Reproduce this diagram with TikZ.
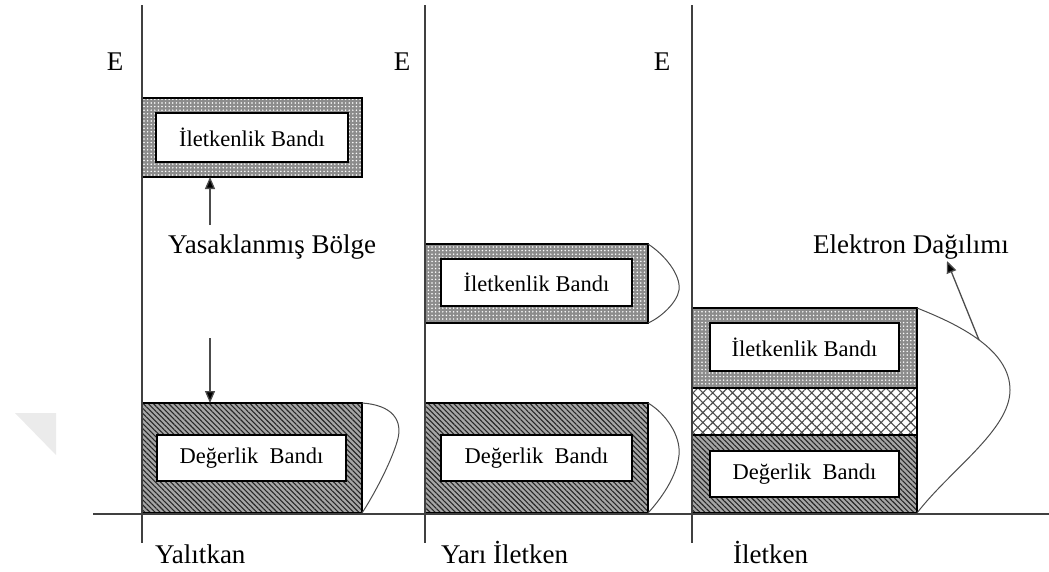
\documentclass[tikz,border=0pt]{standalone}
\usepackage{fontspec}
\setmainfont{Liberation Serif}
\usetikzlibrary{patterns.meta,arrows.meta}
\begin{document}
\begin{tikzpicture}[x=1pt,y=-1pt,
  axisline/.style={draw=black!75,line width=1.4pt},
  cband/.style={draw=black,line width=1.3pt,inner sep=0pt,outer sep=0pt,
    preaction={fill=black!45},pattern={Dots[radius=0.85pt,distance=3.6pt]},pattern color=white},
  vband/.style={draw=black,line width=1.3pt,inner sep=0pt,outer sep=0pt,
    preaction={fill=black!35},pattern={Lines[angle=-45,distance=3.6pt,line width=1.1pt]},pattern color=black!85},
  gapband/.style={draw=black,line width=1.3pt,inner sep=0pt,outer sep=0pt,
    preaction={fill=white},pattern={Hatch[angle=45,distance=7pt,line width=1.1pt]},pattern color=black!70},
  inbox/.style={draw=black,line width=1.3pt,fill=white,inner sep=0pt,outer sep=0pt,
    font=\fontsize{22.5}{25}\selectfont},
  biglabel/.style={inner sep=0pt,font=\fontsize{27}{30}\selectfont},
  distcurve/.style={draw=black!70,line width=1pt},
  arr/.style={draw=black!70,line width=1.3pt,-{Triangle[length=12pt,width=10pt,fill=black]}}
]
\useasboundingbox (0,0) rectangle (1049,571);
\fill[black!8] (15,413) -- (56,413) -- (56,455) -- cycle;

% left column: insulator
\node[cband,minimum width=220,minimum height=79] (c1) at (252,137.5) {};
\node[inbox,minimum width=192,minimum height=49] (c1i) at (252,137.5) {İletkenlik Bandı};
\node[vband,minimum width=220,minimum height=110] (v1) at (252,458) {};
\node[inbox,minimum width=189,minimum height=46] (v1i) at (251.5,458) {Değerlik\ \ Bandı};
\draw[distcurve] (v1.north east) .. controls (392,405) and (404,420) .. (397,442)
  .. controls (390,465) and (372,498) .. (v1.south east);

% middle column: semiconductor
\node[cband,minimum width=223,minimum height=79] (c2) at (536.5,283.5) {};
\node[inbox,minimum width=191,minimum height=47] (c2i) at (536.5,282.5) {İletkenlik Bandı};
\draw[distcurve] (c2.north east) .. controls (665,255) and (681,275) .. (679,290)
  .. controls (677,303) and (660,318) .. (c2.south east);
\node[vband,minimum width=223,minimum height=110] (v2) at (536.5,458) {};
\node[inbox,minimum width=191,minimum height=46] (v2i) at (536.5,458) {Değerlik\ \ Bandı};
\draw[distcurve] (v2.north east) .. controls (665,413) and (681,435) .. (679,455)
  .. controls (677,477) and (660,500) .. (v2.south east);

% right column: conductor
\node[cband,minimum width=225,minimum height=80] (c3) at (804.5,348) {};
\node[inbox,minimum width=189,minimum height=48] (c3i) at (804.5,347) {İletkenlik Bandı};
\node[gapband,minimum width=225,minimum height=47] (g3) at (804.5,411.5) {};
\node[vband,minimum width=225,minimum height=78] (v3) at (804.5,474) {};
\node[inbox,minimum width=189,minimum height=46] (v3i) at (804.5,474) {Değerlik\ \ Bandı};
\draw[distcurve] (c3.north east) .. controls (960,325) and (1010,350) .. (1010,390)
  .. controls (1010,430) and (950,470) .. (v3.south east);

% axes
\draw[axisline] (142,5) -- (142,543);
\draw[axisline] (425,5) -- (425,543);
\draw[axisline] (692,5) -- (692,543);
\draw[axisline] (93,514) -- (1049,514);

% labels
\node[biglabel,anchor=base] (e1) at (115,70) {E};
\node[biglabel,anchor=base] (e2) at (402,70) {E};
\node[biglabel,anchor=base] (e3) at (662,70) {E};
\node[biglabel,anchor=base west] (forb) at (168,253) {Yasaklanmış Bölge};
\node[biglabel,anchor=base west] (dist) at (813,253) {Elektron Dağılımı};
\node[biglabel,anchor=base west] (l1) at (155,563) {Yalıtkan};
\node[biglabel,anchor=base west] (l2) at (441,563) {Yarı İletken};
\node[biglabel,anchor=base west] (l3) at (733,563) {İletken};

% arrows
\coordinate (upTail) at (210,225);
\coordinate (downTail) at (210,338);
\draw[arr] (upTail) -- (c1.south -| upTail);
\draw[arr] (downTail) -- (v1.north -| downTail);
\coordinate (curvePt) at (979,340);
\coordinate (distTip) at (947,261);
\draw[arr] (curvePt) -- (distTip);
\end{tikzpicture}
\end{document}
